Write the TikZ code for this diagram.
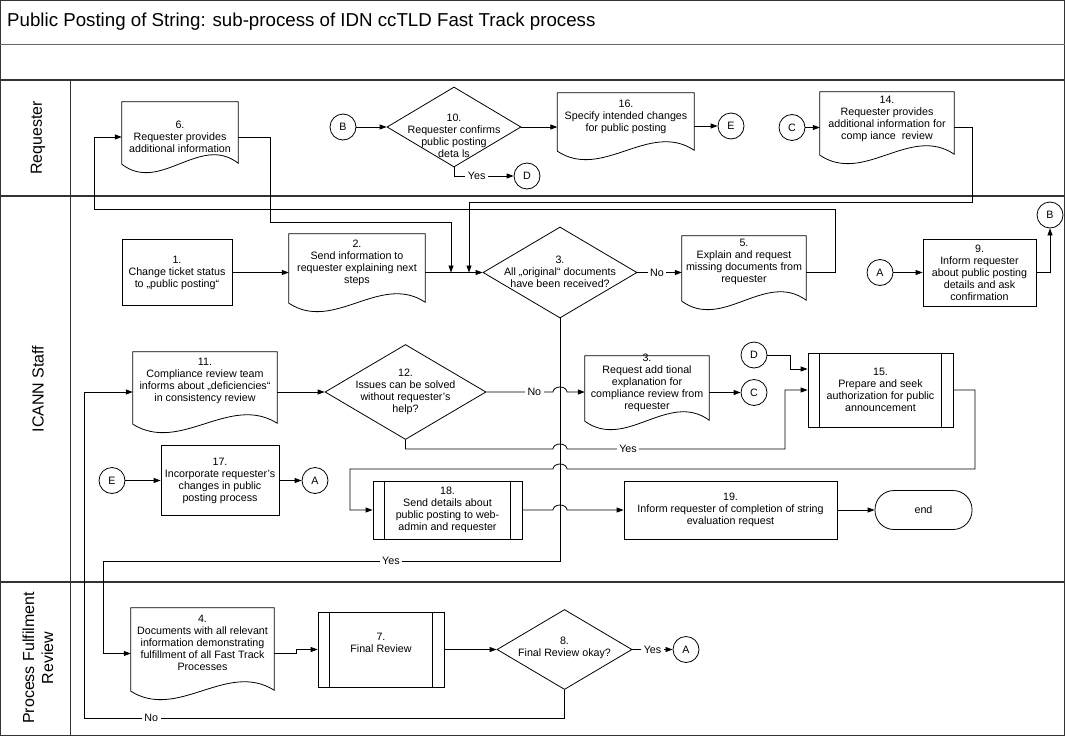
\documentclass[tikz,border=0pt]{standalone}
\usepackage{fontspec}
\setmainfont{Liberation Sans}
\usetikzlibrary{arrows.meta,shapes.geometric,calc}

\newcommand{\docline}[1]{%
  \draw[shp] (#1.north west) -- (#1.north east) -- ([yshift=9pt]#1.south east)
    .. controls ($([yshift=9pt]#1.south east)!0.33!([yshift=8pt]#1.south west)+(0,-30)$)
    and ($([yshift=8pt]#1.south west)!0.33!([yshift=9pt]#1.south east)+(0,30)$)
    .. ([yshift=8pt]#1.south west) -- cycle;}
\newcommand{\predef}[1]{%
  \draw[shp] ([xshift=12pt]#1.north west) -- ([xshift=12pt]#1.south west)
    ([xshift=-12pt]#1.north east) -- ([xshift=-12pt]#1.south east);}

\begin{document}
\begin{tikzpicture}[x=1pt,y=-1pt,
  font=\fontsize{10.7}{12}\selectfont,
  shp/.style={draw=black, line width=0.8pt},
  box/.style={shp, rectangle, align=center, inner sep=1pt},
  hold/.style={rectangle, inner sep=0pt},
  txt/.style={align=center, inner sep=0pt},
  dec/.style={shp, diamond, inner sep=0pt},
  conn/.style={circle, shp, minimum size=26pt, inner sep=0pt},
  term/.style={shp, rectangle, rounded corners=19pt, minimum width=97pt, minimum height=39pt},
  line/.style={draw=black, line width=0.8pt},
  arr/.style={line, -{Triangle[length=7pt,width=5pt]}},
  lbl/.style={fill=white, inner sep=2.5pt},
  lane/.style={draw=black!80, line width=1.6pt},
  lanetitle/.style={font=\fontsize{16}{19}\selectfont, rotate=90, align=center}
]
\useasboundingbox (0,0) rectangle (1065,736);

% ---------- pool and lanes ----------
\draw[draw=black!80, line width=0.9pt] (0.5,0.5) rectangle (1064.5,735.5);
\draw[draw=black!60, line width=1pt] (0,44) -- (1065,44);
\draw[lane] (0,80) -- (1065,80);
\draw[lane] (0,196) -- (1065,196);
\draw[lane] (0,582) -- (1065,582);
\draw[draw=black!80, line width=0.8pt] (70,80) -- (70,736);

\node[anchor=west, inner sep=0pt, font=\fontsize{18.7}{21}\selectfont] (title) at (7,22)
  {Public Posting of String: sub-process of IDN ccTLD Fast Track process};
\node[lanetitle] (laneR) at (38,138) {Requester};
\node[lanetitle] (laneI) at (38,389) {ICANN Staff};
\node[lanetitle] (laneP) at (38,658) {Process Fulfilment\\Review};

% ---------- Requester lane ----------
\node[hold, minimum width=116pt, minimum height=70pt] (d6) at (180,137) {};
\docline{d6}
\node[txt] (d6t) at (180,137) {6.\\Requester provides\\additional information};

\node[conn] (B1) at (343,127) {B};
\node[dec, minimum width=134pt, minimum height=80pt] (d10) at (454,127) {};
\node[txt] (d10t) at (454,136) {10.\\Requester confirms\\public posting\\deta ls};
\node[conn] (D1) at (527,176) {D};

\node[hold, minimum width=136.5pt, minimum height=66pt] (d16) at (625.75,126) {};
\docline{d16}
\node[txt] (d16t) at (626,117) {16.\\Specify intended changes\\for public posting};
\node[conn] (E1) at (731,126) {E};

\node[conn] (C1) at (792,127.5) {C};
\node[hold, minimum width=134pt, minimum height=71pt] (d14) at (887,127.5) {};
\docline{d14}
\node[txt] (d14t) at (887,118.5) {14.\\Requester provides\\additional information for\\comp iance~ review};

% ---------- ICANN Staff lane ----------
\node[box, minimum width=110pt, minimum height=66pt] (n1) at (177,272.5) {1.\\Change ticket status\\to „public posting“};
\node[hold, minimum width=136pt, minimum height=77pt] (d2) at (357,272.5) {};
\docline{d2}
\node[txt] (d2t) at (357,262.5) {2.\\Send information to\\requester explaining next\\steps};
\node[dec, minimum width=154pt, minimum height=91pt] (d3) at (560,272.5) {};
\node[txt] (d3t) at (560,271.5) {3.\\All „original“ documents\\have been received?};
\node[hold, minimum width=124pt, minimum height=73pt] (d5) at (744,272.5) {};
\docline{d5}
\node[txt] (d5t) at (744,262) {5.\\Explain and request\\missing documents from\\requester};
\node[conn] (A1) at (880,272.5) {A};
\node[box, minimum width=113pt, minimum height=67pt] (n9) at (979.5,272.5) {9.\\Inform requester\\about public posting\\details and ask\\confirmation};
\node[conn] (B2) at (1050,215) {B};

\node[hold, minimum width=144pt, minimum height=80pt] (d11) at (205,392) {};
\docline{d11}
\node[txt] (d11t) at (205,380.5) {11.\\Compliance review team\\informs about „deficiencies“\\in consistency review};
\node[dec, minimum width=161pt, minimum height=95pt] (d12) at (405.5,392) {};
\node[txt] (d12t) at (405.5,391.5) {12.\\Issues can be solved\\without requester’s\\help?};
\node[hold, minimum width=124pt, minimum height=73pt] (d13) at (647,392.5) {};
\docline{d13}
\node[txt] (d13t) at (647,383) {3.\\Request add tional\\explanation for\\compliance review from\\requester};
\node[conn] (C2) at (754,392.5) {C};
\node[conn] (D2) at (754,355) {D};
\node[box, minimum width=145pt, minimum height=74pt] (n15) at (880.5,390) {15.\\Prepare and seek\\authorization for public\\announcement};
\predef{n15}

\node[conn] (E2) at (112,480.5) {E};
\node[box, minimum width=118pt, minimum height=70pt] (n17) at (220,480.5) {17.\\Incorporate requester’s\\changes in public\\posting process};
\node[conn] (A2) at (315,480.5) {A};
\node[box, minimum width=149pt, minimum height=58pt] (n18) at (447.5,510) {18.\\Send details about\\public posting to web-\\admin and requester};
\predef{n18}
\node[box, minimum width=213pt, minimum height=58pt] (n19) at (730.5,510) {19.\\Inform requester of completion of string\\evaluation request};
\node[term] (end) at (923.5,510) {end};

% ---------- Process Fulfilment Review lane ----------
\node[hold, minimum width=143pt, minimum height=91pt] (d4) at (202.5,653.5) {};
\docline{d4}
\node[txt] (d4t) at (202.5,643) {4.\\Documents with all relevant\\information demonstrating\\fulfillment of all Fast Track\\Processes};
\node[box, minimum width=126pt, minimum height=75pt] (n7) at (381,649.5) {};
\predef{n7}
\node[txt] (n7t) at (381,643) {7.\\Final Review};
\node[dec, minimum width=135pt, minimum height=80pt] (d8) at (564.5,649.5) {};
\node[txt] (d8t) at (564.5,648) {8.\\Final Review okay?};
\node[conn] (A3) at (686,649.5) {A};

% ---------- helper coordinates ----------
\coordinate (j1) at (451,272.5);
\coordinate (j2) at (469,272.5);
\coordinate (c56) at (835,209);
\coordinate (c56b) at (94,209);
\coordinate (c6a) at (270,222);
\coordinate (c14a) at (972,202);
\coordinate (c3a) at (560,561);
\coordinate (c3b) at (103,561);
\coordinate (h1) at (553,392);
\coordinate (h2) at (553,449);
\coordinate (c12b) at (785,449);
\coordinate (c15a) at (790,369);
\coordinate (c15b) at (975,469);
\coordinate (h3) at (567,469);
\coordinate (c18a) at (350,469);
\coordinate (h4) at (553,510);
\coordinate (c4a) at (296,649.5);
\coordinate (c8a) at (84,718);

% ---------- connectors ----------
\draw[arr] (B1.east) -- (B1.east -| d10.west);
\draw[arr] (d10.east) -- (d10.east -| d16.west);
\draw[arr] (d16.east) -- (d16.east -| E1.west);
\draw[arr] (C1.east) -- (C1.east -| d14.west);
\draw[arr] (d10.south) |- node[lbl, pos=0.69] {Yes} (D1.west);

\draw[arr] (n1.east) -- (n1.east -| d2.west);
\draw[arr] (d2.east) -- (d3.west);
\draw[arr] (d3.east) -- node[lbl, pos=0.44] {No} (d5.west);
\draw[arr] (d5.east) -| (c56) -- (c56b) |- (d6.west);
\draw[arr] (d6.east) -| (c6a) -| (j1);
\draw[arr] (d14.east) -| (c14a) -| (j2);
\draw[arr] (A1.east) -- (A1.east -| n9.west);
\draw[arr] (n9.east) -| (B2.south);

\draw[arr] (d3.south) -- (c3a) -- node[lbl, pos=0.37] {Yes} (c3b) |- (d4.west);
\draw[arr] (d11.east) -- (d11.east -| d12.west);
\draw[arr] (d12.east) -- node[lbl, pos=0.72] {No} (h1)
  arc[start angle=180, end angle=0, x radius=7pt, y radius=5pt] -- (h1 -| d13.west);
\draw[arr] (d12.south) |- (h2)
  arc[start angle=180, end angle=0, x radius=7pt, y radius=5pt]
  -- node[lbl, pos=0.28] {Yes} (c12b) |- (n15.west);
\draw[arr] (d13.east) -- (d13.east -| C2.west);
\draw[arr] (D2.east) -| (c15a) -- (c15a -| n15.west);
\draw[arr] (n15.east) -| (c15b) -- (h3)
  arc[start angle=0, end angle=180, x radius=7pt, y radius=5pt] -- (c18a) |- (n18.west);
\draw[arr] (n18.east) -- (h4)
  arc[start angle=180, end angle=0, x radius=7pt, y radius=5pt] -- (h4 -| n19.west);
\draw[arr] (n19.east) -- (n19.east -| end.west);
\draw[arr] (E2.east) -- (E2.east -| n17.west);
\draw[arr] (n17.east) -- (n17.east -| A2.west);

\draw[arr] (d4.east) -| (c4a) -- (c4a -| n7.west);
\draw[arr] (n7.east) -- (d8.west);
\draw[arr] (d8.east) -- node[lbl, pos=0.5] {Yes} (A3.west);
\draw[arr] (d8.south) |- node[lbl, pos=0.93] {No} (c8a) |- (d11.west);
\end{tikzpicture}
\end{document}
